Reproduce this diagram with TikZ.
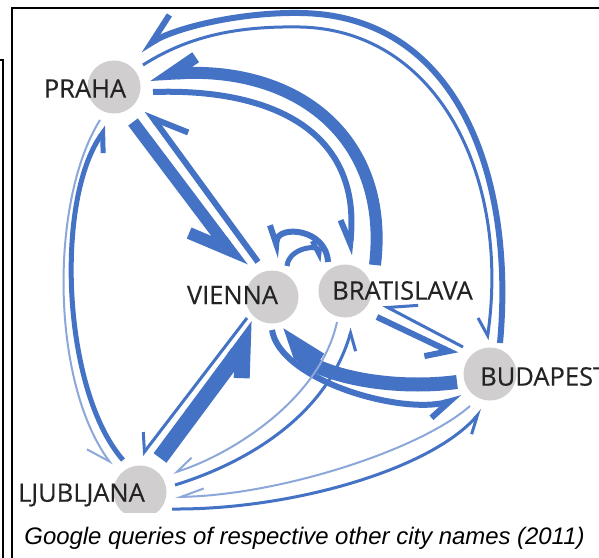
\documentclass[tikz,border=0pt]{standalone}
\usepackage{fontspec}
\newfontfamily\cityfont[FakeBold=0.25]{Open Sans}
\newfontfamily\capfont{Liberation Sans}
\usetikzlibrary{arrows.meta}
\definecolor{bl}{RGB}{68,114,196}
\definecolor{lb}{RGB}{140,168,218}
\definecolor{cg}{RGB}{208,206,206}
\definecolor{tx}{RGB}{35,35,35}
\begin{document}
\begin{tikzpicture}[x=1bp,y=-1bp,
  city/.style={circle,fill=cg,minimum size=53bp,inner sep=0pt,outer sep=0pt},
  lbl/.style={font=\cityfont\fontsize{25.5bp}{26bp}\selectfont,text=tx,inner sep=0pt},
  ed/.style={draw=bl,line width=#1},
  ah/.style 2 args={-{Straight Barb[harpoon,swap,length=#1bp,width=#2bp]}},
  frm/.style={draw=black,line width=2bp}]
\useasboundingbox (0,0) rectangle (599,558);
\fill[white] (0,0) rectangle (599,558);
% cities
\node[city] (praha) at (114,87) {};
\node[city] (vienna) at (272,297) {};
\node[city] (bratislava) at (345,291) {};
\node[city] (budapest) at (490,374) {};
\node[city] (ljubljana) at (140,492) {};
% Praha - Vienna
\draw[ed=12bp,ah={38}{44}] ([shift={(19,35)}]praha.center) -- ([shift={(-29,-29)}]vienna.center);
\draw[ed=6bp,ah={32}{40}] ([shift={(-14,-35)}]vienna.center) -- ([shift={(33,23)}]praha.center);
% Praha - Budapest
\draw[ed=6bp,ah={30}{28}] ([shift={(10,-31)}]budapest.center) .. controls (515,180) and (460,15) .. (300,13) .. controls (240,12) and (175,28) .. ([shift={(26,-37)}]praha.center);
\draw[ed=3bp,ah={16}{24}] ([shift={(29,-22)}]praha.center) .. controls (190,35) and (240,26) .. (300,27) .. controls (440,30) and (510,180) .. ([shift={(-3,-34)}]budapest.center);
% Praha - Bratislava
\draw[ed=12bp,ah={25}{30}] ([shift={(30,-26)}]bratislava.center) .. controls (390,140) and (300,66) .. ([shift={(36,-12)}]praha.center);
\draw[ed=6bp,ah={22}{24}] ([shift={(39,5)}]praha.center) .. controls (270,88) and (362,130) .. ([shift={(4,-36)}]bratislava.center);
% Vienna - Bratislava
\draw[ed=6bp,ah={18}{16}] ([shift={(-17,-29)}]bratislava.center) .. controls (326,228) and (278,225) .. ([shift={(3,-39)}]vienna.center);
\draw[ed=5bp,ah={12}{16}] ([shift={(15,-31)}]vienna.center) .. controls (289,247) and (320,244) .. ([shift={(-27,-29)}]bratislava.center);
% Vienna - Budapest
\draw[ed=14bp,ah={22}{36}] ([shift={(-33,8)}]budapest.center) .. controls (380,392) and (305,370) .. ([shift={(18,29)}]vienna.center);
\draw[ed=6bp,ah={22}{22}] ([shift={(0,33)}]vienna.center) .. controls (280,380) and (400,415) .. ([shift={(-28,24)}]budapest.center);
% Ljubljana - Vienna
\draw[ed=16bp,ah={26}{36}] ([shift={(20,-34)}]ljubljana.center) -- ([shift={(-14,29)}]vienna.center);
\draw[ed=3bp,ah={15}{26}] ([shift={(-25,21)}]vienna.center) -- ([shift={(2,-37)}]ljubljana.center);
% Ljubljana - Praha
\draw[ed=2bp,draw=lb,ah={23}{22}] ([shift={(-14,33)}]praha.center) .. controls (50,200) and (50,380) .. ([shift={(-28,-27)}]ljubljana.center);
\draw[ed=5bp,ah={16}{24}] ([shift={(-17,-32)}]ljubljana.center) .. controls (62,390) and (55,200) .. ([shift={(-7,40)}]praha.center);
% Ljubljana - Bratislava
\draw[ed=2bp,draw=lb,ah={18}{18}] ([shift={(-8,31)}]bratislava.center) .. controls (320,400) and (230,455) .. ([shift={(33,-19)}]ljubljana.center);
\draw[ed=3bp,ah={16}{20}] ([shift={(35,-7)}]ljubljana.center) .. controls (240,465) and (325,420) .. ([shift={(7,37)}]bratislava.center);
% Ljubljana - Budapest
\draw[ed=2bp,draw=lb,ah={23}{16}] ([shift={(-20,32)}]budapest.center) .. controls (420,450) and (280,495) .. ([shift={(35,5)}]ljubljana.center);
\draw[ed=3bp,ah={18}{16}] ([shift={(32,17)}]ljubljana.center) .. controls (290,510) and (430,470) .. ([shift={(-8,36)}]budapest.center);
% Bratislava - Budapest
\draw[ed=3bp,ah={26}{32}] ([shift={(-27,-27)}]budapest.center) -- ([shift={(38,14)}]bratislava.center);
\draw[ed=6bp,ah={20}{30}] ([shift={(32,26)}]bratislava.center) -- ([shift={(-33,-19)}]budapest.center);
% caption band
\fill[white] (14,513) rectangle (598,557);
% labels
\node[lbl] (lpraha) at (85,88.5) {PRAHA};
\node[lbl] (lvienna) at (232.5,295) {VIENNA};
\node[lbl] (lbratislava) at (402.5,290.5) {BRATISLAVA};
\node[lbl,anchor=west] (lbudapest) at (480,376.5) {BUDAPEST};
\node[lbl] (lljubljana) at (81.5,495) {LJUBLJANA};
\node[font=\capfont\itshape\fontsize{23.9bp}{24bp}\selectfont,anchor=base,inner sep=0pt] (caption) at (304.5,544) {Google queries of respective other city names (2011)};
% frames
\draw[frm] (12,8) rectangle (640,600);
\draw[draw=black,line width=1.5bp] (0,60) -- (3,60) -- (3,600);
\end{tikzpicture}
\end{document}
